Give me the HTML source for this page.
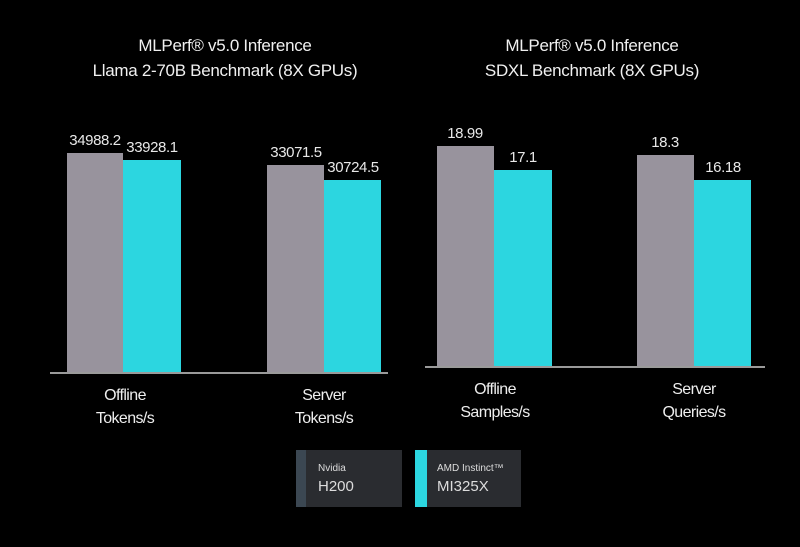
<!DOCTYPE html>
<html><head><meta charset="utf-8"><style>
body{margin:0;background:#000;width:800px;height:547px;overflow:hidden;position:relative;font-family:"Liberation Sans",sans-serif;color:#e6e6e6}
.a{position:absolute}
.t{position:absolute;text-align:center;font-size:17px;line-height:25px;color:#f0f0f0;letter-spacing:-0.3px}
.b{position:absolute}
.g{background:#98939d}.c{background:#2cd6e0}
.v{position:absolute;font-size:15px;color:#e8e8e8;text-align:center;width:80px;letter-spacing:-0.4px}
.l{position:absolute;text-align:center;font-size:16px;line-height:23px;width:120px;color:#eee;letter-spacing:-0.6px}
</style></head><body>
<div class="t" style="left:75px;top:33px;width:300px">MLPerf® v5.0 Inference<br>Llama 2-70B Benchmark (8X GPUs)</div>
<div class="t" style="left:442px;top:33px;width:300px">MLPerf® v5.0 Inference<br>SDXL Benchmark (8X GPUs)</div>

<div class="b g" style="left:67px;top:153px;width:56px;height:219px"></div>
<div class="b c" style="left:123px;top:160px;width:58px;height:212px"></div>
<div class="b g" style="left:267px;top:165px;width:57px;height:207px"></div>
<div class="b c" style="left:324px;top:180px;width:57px;height:192px"></div>
<div class="a" style="left:50px;top:372px;width:338px;height:2px;background:#9a9a9a"></div>

<div class="v" style="left:55px;top:132px">34988.2</div>
<div class="v" style="left:112px;top:139px">33928.1</div>
<div class="v" style="left:256px;top:144px">33071.5</div>
<div class="v" style="left:313px;top:159px">30724.5</div>

<div class="b g" style="left:437px;top:146px;width:57px;height:220px"></div>
<div class="b c" style="left:494px;top:170px;width:58px;height:196px"></div>
<div class="b g" style="left:637px;top:155px;width:57px;height:211px"></div>
<div class="b c" style="left:694px;top:180px;width:57px;height:186px"></div>
<div class="a" style="left:425px;top:366px;width:340px;height:2px;background:#9a9a9a"></div>

<div class="v" style="left:425px;top:125px">18.99</div>
<div class="v" style="left:483px;top:149px">17.1</div>
<div class="v" style="left:625px;top:134px">18.3</div>
<div class="v" style="left:683px;top:159px">16.18</div>

<div class="l" style="left:65px;top:384px">Offline<br>Tokens/s</div>
<div class="l" style="left:264px;top:384px">Server<br>Tokens/s</div>
<div class="l" style="left:435px;top:378px">Offline<br>Samples/s</div>
<div class="l" style="left:634px;top:378px">Server<br>Queries/s</div>

<div class="a" style="left:296px;top:450px;width:106px;height:57px;background:#2a2c30"></div>
<div class="a" style="left:296px;top:450px;width:10px;height:57px;background:#3b4752"></div>
<div class="a" style="left:318px;top:463px;font-size:10px;color:#ddd">Nvidia</div>
<div class="a" style="left:318px;top:478px;font-size:15px;color:#ddd">H200</div>
<div class="a" style="left:415px;top:450px;width:106px;height:57px;background:#2a2c30"></div>
<div class="a" style="left:415px;top:450px;width:12px;height:57px;background:#2cd6e0"></div>
<div class="a" style="left:437px;top:463px;font-size:10px;color:#ddd">AMD Instinct™</div>
<div class="a" style="left:437px;top:478px;font-size:15px;color:#ddd">MI325X</div>
</body></html>
